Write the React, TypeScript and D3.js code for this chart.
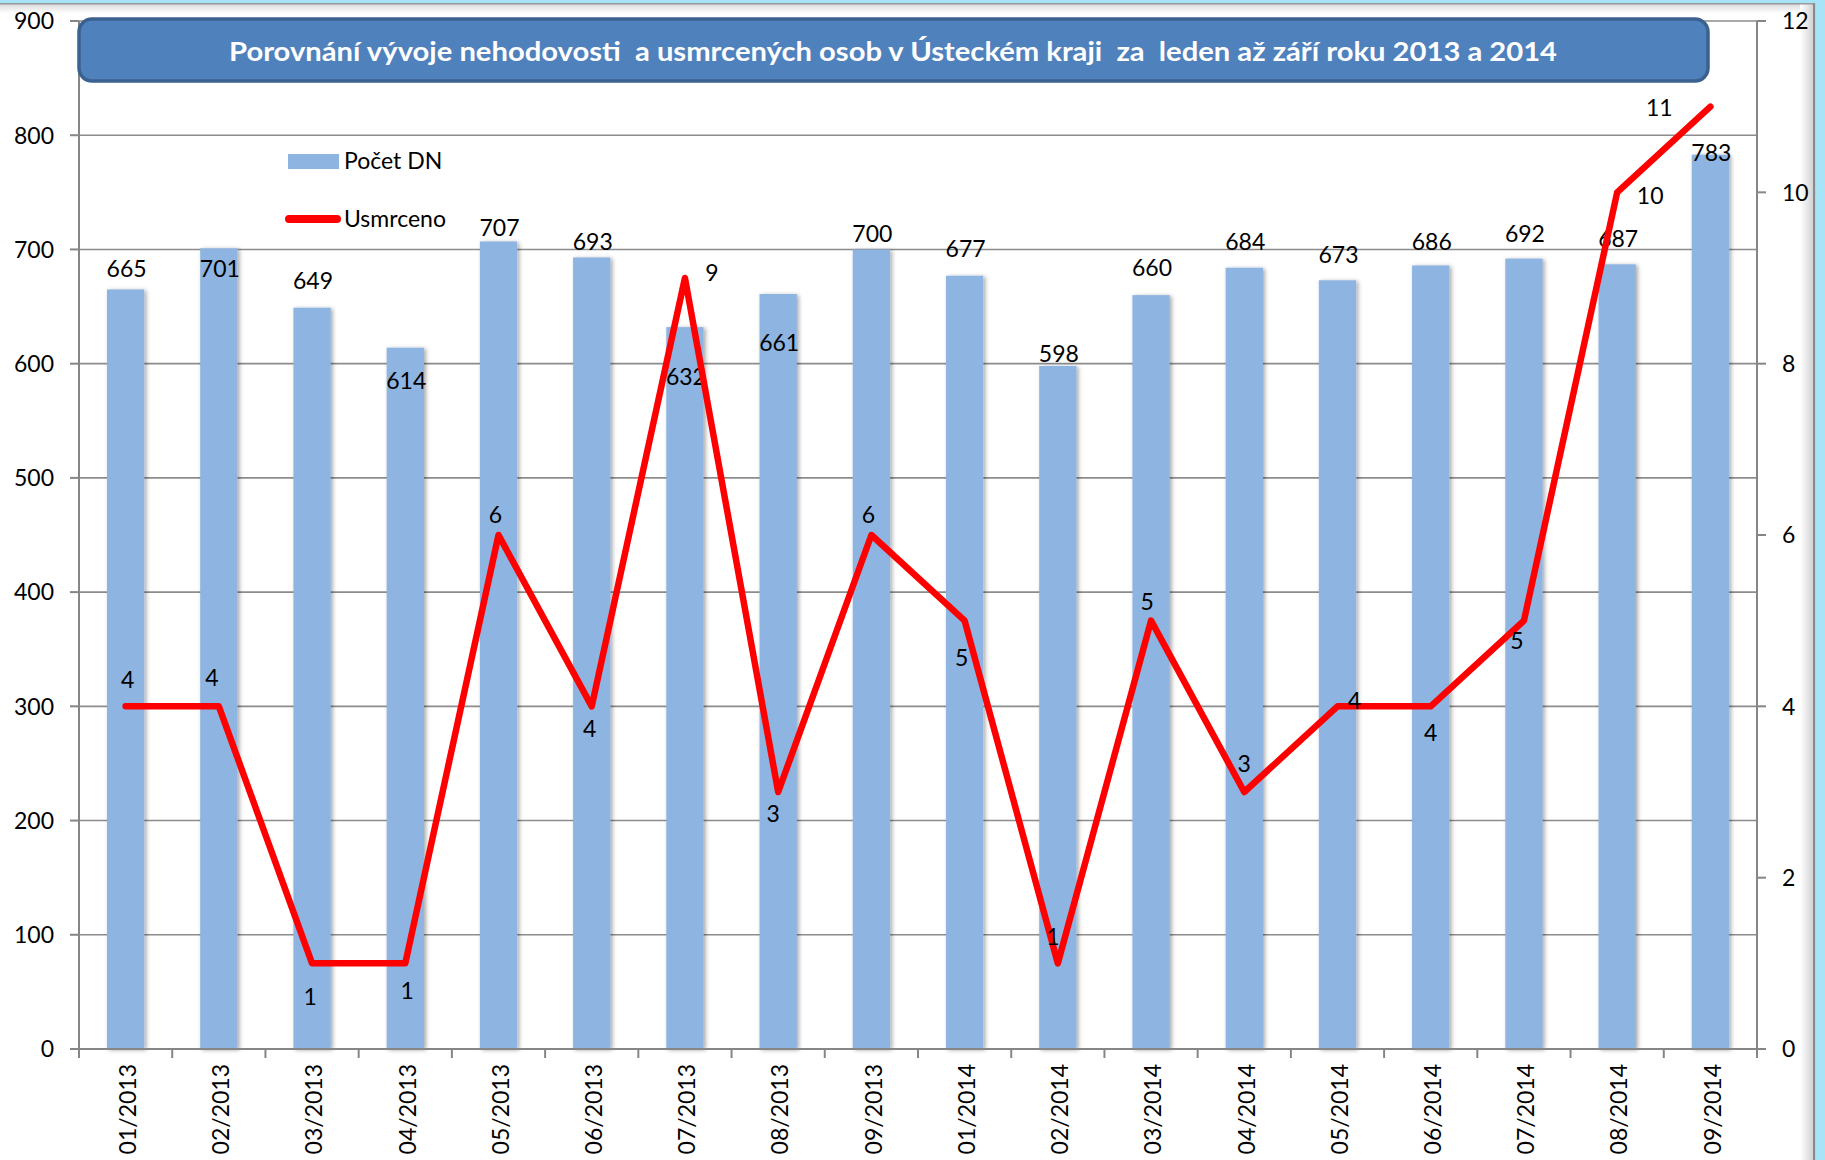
import React from 'react';
import * as d3 from 'd3';

const categories = ['01/2013', '02/2013', '03/2013', '04/2013', '05/2013', '06/2013', '07/2013', '08/2013', '09/2013',
  '01/2014', '02/2014', '03/2014', '04/2014', '05/2014', '06/2014', '07/2014', '08/2014', '09/2014'];
const accidents = [665, 701, 649, 614, 707, 693, 632, 661, 700, 677, 598, 660, 684, 673, 686, 692, 687, 783];
const killed = [4, 4, 1, 1, 6, 4, 9, 3, 6, 5, 1, 5, 3, 4, 4, 5, 10, 11];
const leftTicks = [0, 100, 200, 300, 400, 500, 600, 700, 800, 900];
const rightTicks = [0, 2, 4, 6, 8, 10, 12];
const seriesNames = ['Počet DN', 'Usmrceno'];
const titleText = 'Porovnání vývoje nehodovosti  a usmrcených osob v Ústeckém kraji  za  leden až září roku 2013 a 2014';

// label placement offsets (layout only)
const barLabelDy = [-21, 20, -27, 33, -14, -16, 50, 49, -16, -27, -12, -27, -26, -26, -24, -25, -26, -2];
const lineLabelDx = [2, -7, -2, 2, -3, -2, 27, -5, -3, -3, -5, -4, 0, 17, 0, -7, 33, -51];
const lineLabelDy = [-27, -29, 33, 27, -20, 22, -5, 22, -20, 37, -27, -19, -28, -6, 26, 20, 3, 1];

const W = 1825, H = 1160;
const left = 79, right = 1757, top = 21, bottom = 1049;
const FONT = 'Lato, "Open Sans", sans-serif';
const FS = 23;

export default function App() {
  const x = d3.scaleBand<string>().domain(categories).range([left, right]).paddingInner(0.6).paddingOuter(0.3);
  const y = d3.scaleLinear().domain([0, 900]).range([bottom, top]);
  const y2 = d3.scaleLinear().domain([0, 12]).range([bottom, top]);
  const cx = (c: string) => (x(c) as number) + x.bandwidth() / 2;
  const line = d3.line<number>().x((_, i) => cx(categories[i])).y(d => y2(d));
  const boundaries = d3.range(0, categories.length + 1).map(i => left + i * ((right - left) / categories.length));

  return (
    <svg width={W} height={H} style={{ position: 'absolute', left: 0, top: 0, fontFamily: FONT }}>
      <defs>
        <linearGradient id="topG" x1="0" y1="0" x2="0" y2="1">
          <stop offset="0" stopColor="#d9d9d9" />
          <stop offset="1" stopColor="#ffffff" />
        </linearGradient>
        <linearGradient id="rightG" x1="0" y1="0" x2="1" y2="0">
          <stop offset="0" stopColor="#ffffff" />
          <stop offset="1" stopColor="#d0d0d0" />
        </linearGradient>
        <filter id="shadow" x="-30%" y="-5%" width="160%" height="110%">
          <feDropShadow dx="2" dy="1" stdDeviation="2" floodColor="#000" floodOpacity="0.35" />
        </filter>
      </defs>
      <rect x={0} y={0} width={W} height={H} fill="#ffffff" />
      {/* frame */}
      <rect x={0} y={4} width={1814} height={9} fill="url(#topG)" />
      <rect x={1800} y={4} width={14} height={H} fill="url(#rightG)" />
      <rect x={0} y={0} width={W} height={3} fill="#a8e4f8" />
      <rect x={0} y={3} width={1815} height={1.5} fill="#9a9a9a" />
      <rect x={1813} y={3} width={2.5} height={H} fill="#8a8a8a" />
      <rect x={1815.5} y={0} width={10} height={H} fill="#a8e4f8" />

      {/* gridlines */}
      {leftTicks.map(t => (
        <line key={'g' + t} x1={left} x2={right} y1={y(t)} y2={y(t)} stroke="#8c8c8c" strokeWidth={1.6} />
      ))}

      {/* bars */}
      <g filter="url(#shadow)">
        {accidents.map((v, i) => (
          <rect key={'b' + i} x={x(categories[i])} y={y(v)} width={x.bandwidth()} height={y(0) - y(v)} fill="#8eb4e1" />
        ))}
      </g>

      {/* axes */}
      <line x1={left} x2={left} y1={top} y2={bottom} stroke="#868686" strokeWidth={2} />
      <line x1={right} x2={right} y1={top} y2={bottom} stroke="#868686" strokeWidth={2} />
      <line x1={left - 9} x2={right + 9} y1={bottom} y2={bottom} stroke="#868686" strokeWidth={2} />
      {leftTicks.map(t => (
        <g key={'lt' + t}>
          <line x1={left - 9} x2={left} y1={y(t)} y2={y(t)} stroke="#868686" strokeWidth={2} />
          <text x={54} y={y(t)} dy="0.36em" textAnchor="end" fontSize={FS} fill="#000">{t}</text>
        </g>
      ))}
      {rightTicks.map(t => (
        <g key={'rt' + t}>
          <line x1={right} x2={right + 9} y1={y2(t)} y2={y2(t)} stroke="#868686" strokeWidth={2} />
          <text x={1782} y={y2(t)} dy="0.36em" textAnchor="start" fontSize={FS} fill="#000">{t}</text>
        </g>
      ))}
      {boundaries.map((b, i) => (
        <line key={'xt' + i} x1={b} x2={b} y1={bottom} y2={bottom + 9} stroke="#868686" strokeWidth={2} />
      ))}
      {categories.map(c => (
        <text key={'xl' + c} transform={`translate(${cx(c) + 2},${1064}) rotate(-90)`} dy="0.36em" textAnchor="end" fontSize={FS} fill="#000">{c}</text>
      ))}

      {/* bar labels */}
      {accidents.map((v, i) => (
        <text key={'bl' + i} x={cx(categories[i]) + 1} y={y(v) + barLabelDy[i]} dy="0.36em" textAnchor="middle" fontSize={FS} fill="#000">{v}</text>
      ))}

      {/* line */}
      <path d={line(killed) || ''} fill="none" stroke="#ff0000" strokeWidth={6.5} strokeLinejoin="round" strokeLinecap="round" />
      {killed.map((v, i) => (
        <text key={'ll' + i} x={cx(categories[i]) + lineLabelDx[i]} y={y2(v) + lineLabelDy[i]} dy="0.36em" textAnchor="middle" fontSize={FS} fill="#000">{v}</text>
      ))}

      {/* title */}
      <rect x={79} y={19} width={1629} height={62} rx={13} fill="#4f81bd" stroke="#3b6190" strokeWidth={3.5} />
      <text x={893} y={61} textAnchor="middle" fontSize={26} fontWeight="bold" fill="#ffffff" style={{ whiteSpace: 'pre' }}
        textLength={1328} lengthAdjust="spacingAndGlyphs">{titleText}</text>

      {/* legend */}
      <rect x={288} y={154} width={51} height={15} fill="#8eb4e1" />
      <text x={344} y={169} fontSize={FS} fill="#000">{seriesNames[0]}</text>
      <line x1={289} x2={337} y1={219} y2={219} stroke="#ff0000" strokeWidth={8} strokeLinecap="round" />
      <text x={344} y={227} fontSize={FS} fill="#000">{seriesNames[1]}</text>
    </svg>
  );
}
